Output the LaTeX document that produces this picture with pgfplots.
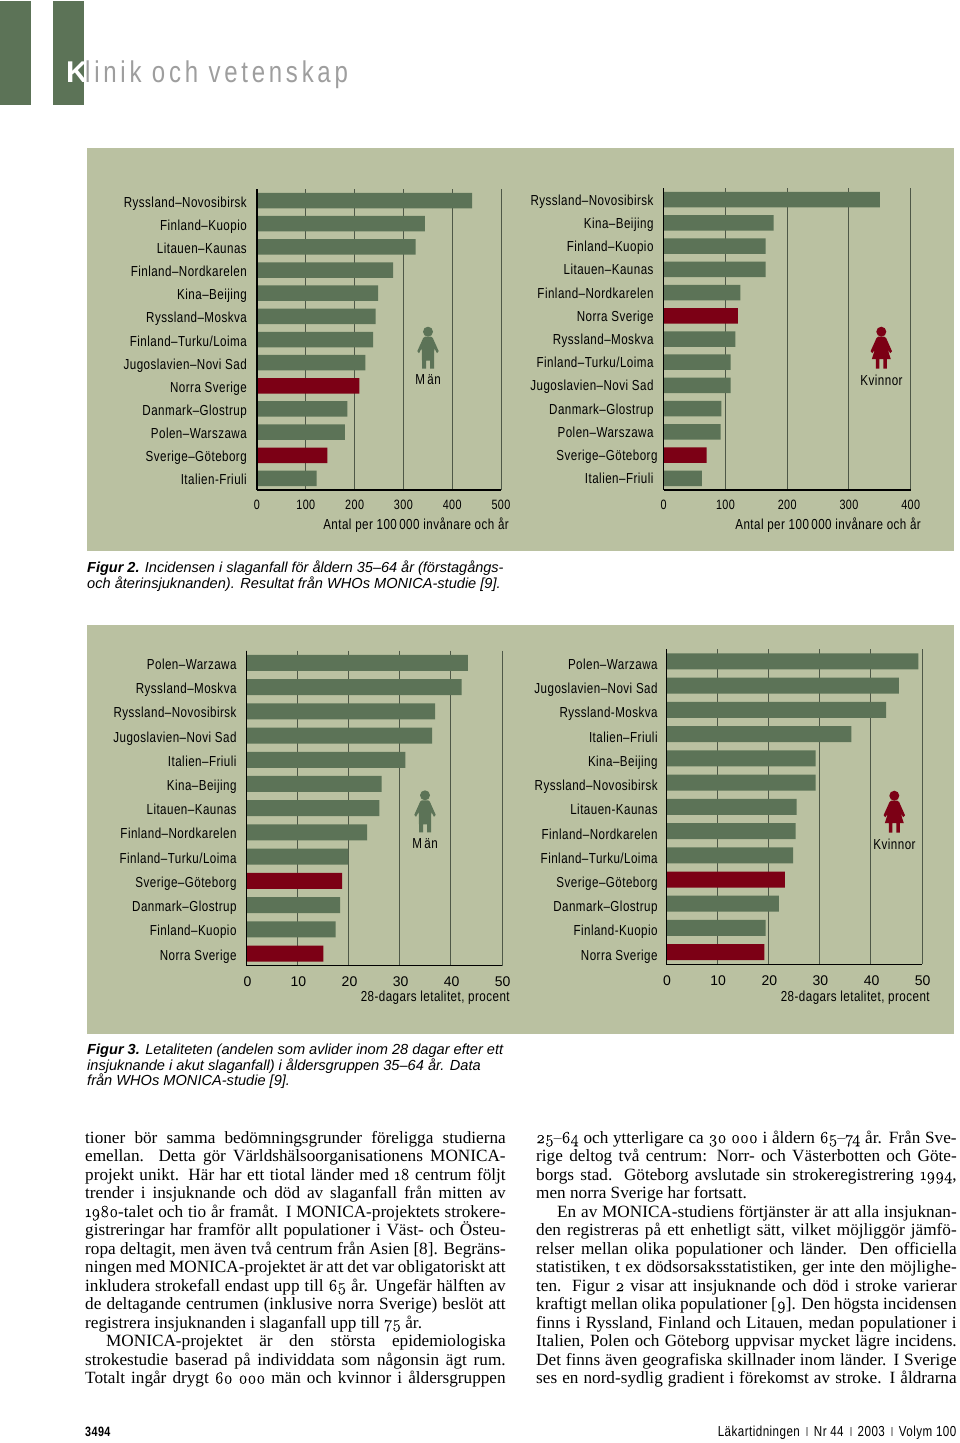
\documentclass[border=0pt]{standalone}
\usepackage{fontspec}
\usepackage{pgfplots}
\pgfplotsset{compat=1.18}
\setmainfont{Liberation Serif}
\newfontfamily\lab[FakeStretch=0.8,LetterSpace=3.2]{Liberation Sans}
\newfontfamily\plainsans{Liberation Sans}
\newfontfamily\titlefont[FakeStretch=0.8,LetterSpace=12.5]{Liberation Sans}
\newfontfamily\capfont{Liberation Sans}
\newfontfamily\os[Numbers=OldStyle,FakeBold=0.25]{Latin Modern Roman}
\definecolor{panel}{HTML}{BAC1A1}
\definecolor{bargreen}{HTML}{5C7357}
\definecolor{barred}{HTML}{7C0015}
\definecolor{gridc}{HTML}{4E5847}
\newcommand\fs[1]{\fontsize{#1bp}{#1bp}\selectfont}
\newcommand\labfont{\lab\fs{14.5}}
\newcommand\body{\fs{17.2}\spaceskip=.25em plus 1em minus .14em\relax}
\newcommand\bl[3]{\node[anchor=base west,inner sep=0pt] at (#1bp,-#2bp) {\body\makebox[420.5bp][s]{#3}};}
\newcommand\onum[1]{{\os\fs{17}#1}}
\newcommand\man[3]{\begin{scope}[shift={(#1bp,-#2bp)},x=1bp,y=-1bp]
\fill[#3] (0,0) circle (5);
\fill[#3] (-3,5) -- (3,5) to[out=0,in=120] (6,9) -- (10.7,19.5) -- (9,21.5) -- (6.3,16.5) -- (6,29) -- (6,37) -- (2,37) -- (2,29) -- (-2,29) -- (-2,37) -- (-6,37) -- (-6,29) -- (-6.3,16.5) -- (-9,21.5) -- (-10.7,19.5) -- (-6,9) to[out=60,in=180] cycle;
\end{scope}}
\newcommand\woman[3]{\begin{scope}[shift={(#1bp,-#2bp)},x=1bp,y=-1bp]
\fill[#3] (0,0) circle (5);
\fill[#3] (-3,5) -- (3,5) to[out=0,in=120] (6,9) -- (10.7,19.5) -- (9,21.5) -- (6.5,18) -- (9.5,27.5) -- (5.5,27.5) -- (5.5,37) -- (2,37) -- (2,27.5) -- (-2,27.5) -- (-2,37) -- (-5.5,37) -- (-5.5,27.5) -- (-9.5,27.5) -- (-6.5,18) -- (-9,21.5) -- (-10.7,19.5) -- (-6,9) to[out=60,in=180] cycle;
\end{scope}}
\pgfplotsset{
 barax/.style={
  scale only axis, anchor=south west,
  xbar, bar shift=0pt,
  y dir=reverse, ymin=-0.5, ymax=12.5, xmin=0,
  ytick={0,...,12},
  axis x line=bottom, axis y line=left,
  axis line style={-,black,line width=1.5bp},
  major tick length=0pt,
  xmajorgrids, grid style={gridc,line width=1bp},
  clip=false,
  /pgf/number format/assume math mode=true,
  yticklabel style={font=\labfont,inner sep=0pt,anchor=east,xshift=-10bp,text height=10bp,text depth=3bp},
  xlabel style={font=\labfont,inner sep=0pt,anchor=north east},
 },
 gbar/.style={fill=bargreen,draw=none},
 rbar/.style={fill=barred,draw=none},
}
\begin{document}
\begin{tikzpicture}
\useasboundingbox (0,0) rectangle (960bp,-1443bp);
\fill[white] (0,0) rectangle (960bp,-1443bp);
% header
\fill[bargreen] (0bp,-1bp) rectangle (31bp,-105bp);
\fill[bargreen] (53bp,-1bp) rectangle (84bp,-105bp);
\node[anchor=base west,inner sep=0pt,text=white] at (66bp,-82bp) {\plainsans\bfseries\fs{30}K};
\node[anchor=base west,inner sep=0pt,text=black!38] at (85bp,-82bp) {\titlefont\fs{30}linik och vetenskap};
% panels
\fill[panel] (87bp,-148bp) rectangle (954bp,-551bp);
\fill[panel] (87bp,-625bp) rectangle (954bp,-1034bp);

% Figure 2, men
\begin{axis}[barax, at={(257bp,-490bp)}, width=244bp, height=301bp, xmax=500, bar width=15.5bp,
 xtick={0,100,200,300,400,500},
 xticklabel style={font=\lab\fs{13.5},inner sep=0pt,anchor=north,yshift=-10bp},
 yticklabels={Ryssland–Novosibirsk,Finland–Kuopio,Litauen–Kaunas,Finland–Nordkarelen,Kina–Beijing,Ryssland–Moskva,Finland–Turku/Loima,Jugoslavien–Novi Sad,Norra Sverige,Danmark–Glostrup,Polen–Warszawa,Sverige–Göteborg,Italien-Friuli},
 yticklabel style={yshift=-3bp},
 xlabel={Antal per 100\,000 invånare och år},
 xlabel style={at={(axis description cs:1.033,0)},yshift=-28bp}]
\addplot[gbar] coordinates {(441,0)(344,1)(325,2)(279,3)(248,4)(243,5)(238,6)(222,7)(185,9)(180,10)(122,12)};
\addplot[rbar] coordinates {(210,8)(144,11)};
\draw[black,line width=1.5bp] (axis cs:0,-0.5) -- (axis cs:0,12.5);
\end{axis}

% Figure 2, women
\begin{axis}[barax, at={(663.7bp,-490bp)}, width=247bp, height=302bp, xmax=400, bar width=15.5bp,
 xtick={0,100,200,300,400},
 xticklabel style={font=\lab\fs{13.5},inner sep=0pt,anchor=north,yshift=-10bp},
 yticklabels={Ryssland–Novosibirsk,Kina–Beijing,Finland–Kuopio,Litauen–Kaunas,Finland–Nordkarelen,Norra Sverige,Ryssland–Moskva,Finland–Turku/Loima,Jugoslavien–Novi Sad,Danmark–Glostrup,Polen–Warszawa,Sverige–Göteborg\hspace*{-4bp},Italien–Friuli},
 yticklabel style={yshift=-2bp},
 xlabel={Antal per 100\,000 invånare och år},
 xlabel style={at={(axis description cs:1.042,0)},yshift=-28bp}]
\addplot[gbar] coordinates {(350,0)(178,1)(165,2)(165,3)(124,4)(116,6)(108.5,7)(108.5,8)(93.5,9)(92,10)(62,12)};
\addplot[rbar] coordinates {(120,5)(69.5,11)};
\draw[black,line width=1.5bp] (axis cs:0,-0.5) -- (axis cs:0,12.5);
\end{axis}

% Figure 3, men
\begin{axis}[barax, at={(246.7bp,-965.7bp)}, width=255.3bp, height=315bp, xmax=50, bar width=16bp,
 xtick={0,10,20,30,40,50},
 xticklabel style={font=\plainsans\fs{14},inner sep=0pt,anchor=north,yshift=-11bp,xshift=0.7bp},
 yticklabels={Polen–Warzawa,Ryssland–Moskva,Ryssland–Novosibirsk,Jugoslavien–Novi Sad,Italien–Friuli,Kina–Beijing,Litauen–Kaunas,Finland–Nordkarelen,Finland–Turku/Loima,Sverige–Göteborg,Danmark–Glostrup,Finland–Kuopio,Norra Sverige},
 yticklabel style={yshift=-3bp},
 xlabel={28-dagars letalitet, procent},
 xlabel style={at={(axis description cs:1.031,0)},yshift=-25bp}]
\addplot[gbar] coordinates {(43.3,0)(42.1,1)(36.9,2)(36.3,3)(31.1,4)(26.4,5)(26.0,6)(23.6,7)(19.9,8)(18.3,10)(17.4,11)};
\addplot[rbar] coordinates {(18.7,9)(15.0,12)};
\draw[black,line width=1.5bp] (axis cs:0,-0.5) -- (axis cs:0,12.5);
\end{axis}

% Figure 3, women
\begin{axis}[barax, at={(666.3bp,-964.3bp)}, width=255.7bp, height=315bp, xmax=50, bar width=16bp,
 xtick={0,10,20,30,40,50},
 xticklabel style={font=\plainsans\fs{14},inner sep=0pt,anchor=north,yshift=-11bp,xshift=0.7bp},
 yticklabels={Polen–Warzawa,Jugoslavien–Novi Sad,Ryssland-Moskva,Italien–Friuli,Kina–Beijing,Ryssland–Novosibirsk,Litauen-Kaunas,Finland–Nordkarelen,Finland–Turku/Loima,Sverige–Göteborg,Danmark–Glostrup,Finland-Kuopio,Norra Sverige},
 yticklabel style={xshift=1.5bp,yshift=-4.5bp},
 xlabel={28-dagars letalitet, procent},
 xlabel style={at={(axis description cs:1.031,0)},yshift=-26bp}]
\addplot[gbar] coordinates {(49.3,0)(45.5,1)(43.0,2)(36.2,3)(29.2,4)(29.2,5)(25.5,6)(25.3,7)(24.8,8)(22.0,10)(19.4,11)};
\addplot[rbar] coordinates {(23.2,9)(19.2,12)};
\draw[black,line width=1.5bp] (axis cs:0,-0.5) -- (axis cs:0,12.5);
\end{axis}

% icons
\man{428}{331.7}{bargreen}
\woman{881.3}{331.7}{barred}
\man{425}{795.3}{bargreen}
\woman{894.3}{795.7}{barred}
\node[inner sep=0pt] at (428bp,-380bp) {\labfont M\,än};
\node[inner sep=0pt] at (881.5bp,-380bp) {\labfont Kvinnor};
\node[inner sep=0pt] at (425bp,-844bp) {\labfont M\,än};
\node[inner sep=0pt] at (894.5bp,-844bp) {\labfont Kvinnor};

% captions
\node[anchor=base west,inner sep=0pt] at (87bp,-572bp) {\capfont\fs{14.5}\textbf{\textit{Figur 2.}} \textit{Incidensen i slaganfall för åldern 35–64 år (förstagångs-}};
\node[anchor=base west,inner sep=0pt] at (87bp,-588bp) {\capfont\fs{14.6}\textit{och återinsjuknanden). Resultat från WHOs MONICA-studie [9].}};
\node[anchor=base west,inner sep=0pt] at (87bp,-1054bp) {\capfont\fs{14.6}\textbf{\textit{Figur 3.}} \textit{Letaliteten (andelen som avlider inom 28 dagar efter ett}};
\node[anchor=base west,inner sep=0pt] at (87bp,-1070bp) {\capfont\fs{14.6}\textit{insjuknande i akut slaganfall) i åldersgruppen 35–64 år. Data}};
\node[anchor=base west,inner sep=0pt] at (87bp,-1085bp) {\capfont\fs{14.6}\textit{från WHOs MONICA-studie [9].}};

% body, left column
\bl{85}{1143}{tioner bör samma bedömningsgrunder föreligga studierna}
\bl{85}{1161.5}{emellan. Detta gör Världshälsoorganisationens MONICA-}
\bl{85}{1180}{projekt unikt. Här har ett tiotal länder med \onum{18} centrum följt}
\bl{85}{1198.5}{trender i insjuknande och död av slaganfall från mitten av}
\bl{85}{1217}{\onum{1980}-talet och tio år framåt. I MONICA-projektets strokere-}
\bl{85}{1235.5}{gistreringar har framför allt populationer i Väst- och Östeu-}
\bl{85}{1254}{ropa deltagit, men även två centrum från Asien [8]. Begräns-}
\bl{85}{1272.5}{ningen med MONICA-projektet är att det var obligatoriskt att}
\bl{85}{1291}{inkludera strokefall endast upp till \onum{65} år. Ungefär hälften av}
\bl{85}{1309.5}{de deltagande centrumen (inklusive norra Sverige) beslöt att}
\node[anchor=base west,inner sep=0pt] at (85bp,-1328bp) {\body registrera insjuknanden i slaganfall upp till \onum{75} år.};
\node[anchor=base west,inner sep=0pt] at (106bp,-1346.5bp) {\body\makebox[399.5bp][s]{MONICA-projektet är den största epidemiologiska}};
\bl{85}{1365}{strokestudie baserad på individdata som någonsin ägt rum.}
\bl{85}{1383.5}{Totalt ingår drygt \onum{60 000} män och kvinnor i åldersgruppen}
% body, right column
\bl{536}{1143}{\onum{25–64} och ytterligare ca \onum{30 000} i åldern \onum{65–74} år. Från Sve-}
\bl{536}{1161.5}{rige deltog två centrum: Norr- och Västerbotten och Göte-}
\bl{536}{1180}{borgs stad. Göteborg avslutade sin strokeregistrering \onum{1994},}
\node[anchor=base west,inner sep=0pt] at (536bp,-1198.5bp) {\body men norra Sverige har fortsatt.};
\node[anchor=base west,inner sep=0pt] at (557bp,-1217bp) {\body\makebox[399.5bp][s]{En av MONICA-studiens förtjänster är att alla insjuknan-}};
\bl{536}{1235.5}{den registreras på ett enhetligt sätt, vilket möjliggör jämfö-}
\bl{536}{1254}{relser mellan olika populationer och länder. Den officiella}
\bl{536}{1272.5}{statistiken, t ex dödsorsaksstatistiken, ger inte den möjlighe-}
\bl{536}{1291}{ten. Figur \onum{2} visar att insjuknande och död i stroke varierar}
\bl{536}{1309.5}{kraftigt mellan olika populationer [\onum{9}]. Den högsta incidensen}
\bl{536}{1328}{finns i Ryssland, Finland och Litauen, medan populationer i}
\bl{536}{1346.5}{Italien, Polen och Göteborg uppvisar mycket lägre incidens.}
\bl{536}{1365}{Det finns även geografiska skillnader inom länder. I Sverige}
\bl{536}{1383.5}{ses en nord-sydlig gradient i förekomst av stroke. I åldrarna}
% footer
\node[anchor=base west,inner sep=0pt] at (85bp,-1436bp) {\lab\bfseries\fs{13.5}3494};
\node[anchor=base east,inner sep=0pt] at (956.5bp,-1436bp) {\lab\fs{14.5}Läkartidningen\hspace{6bp}\textcolor{black!35}{\rule{2bp}{9bp}}\hspace{6bp}Nr 44\hspace{6bp}\textcolor{black!35}{\rule{2bp}{9bp}}\hspace{6bp}2003\hspace{6bp}\textcolor{black!35}{\rule{2bp}{9bp}}\hspace{6bp}Volym 100};
\end{tikzpicture}
\end{document}
